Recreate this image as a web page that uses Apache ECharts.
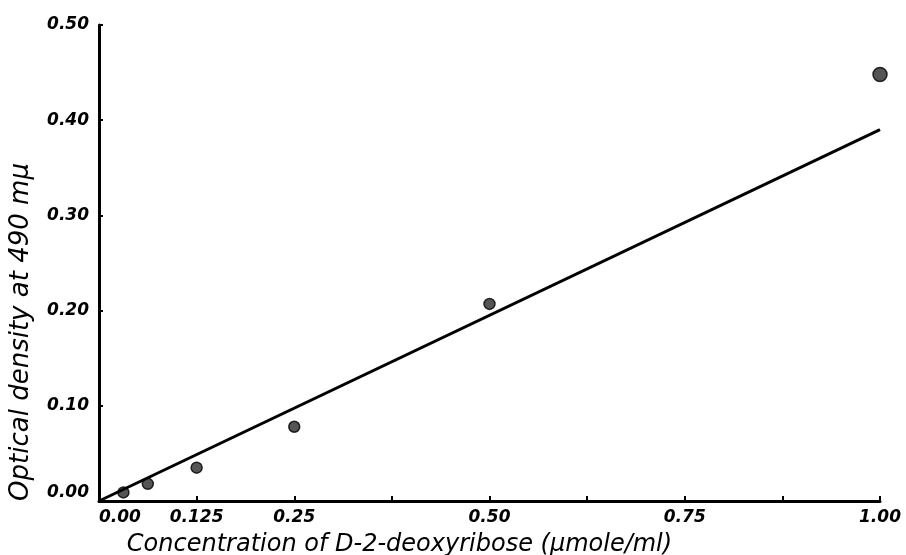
<!DOCTYPE html>
<html>
<head>
<meta charset="utf-8">
<script src="https://cdn.jsdelivr.net/npm/echarts@6/dist/echarts.min.js"></script>
<style>
  html, body { margin: 0; padding: 0; background: #fff; }
  #chart { width: 906px; height: 555px; }
</style>
</head>
<body>
<div id="chart"></div>
<script>
// Standard curve: D-2-deoxyribose concentration vs optical density
const concentration = [0.03125, 0.0625, 0.125, 0.25, 0.50, 1.00];
const opticalDensity = [0.009, 0.018, 0.035, 0.078, 0.207, 0.448];

// Fitted straight line through the origin
const fitX = [0, 1.00];
const fitY = [0, 0.39];

// Labelled x positions (ticks fall every 0.125)
const xTickLabels = { '0': '0.00', '0.125': '0.125', '0.25': '0.25', '0.5': '0.50', '0.75': '0.75', '1': '1.00' };
const yTickLabels = ['0.00', '0.10', '0.20', '0.30', '0.40', '0.50'];

const hand = '"DejaVu Sans", sans-serif';

const chart = echarts.init(document.getElementById('chart'), null, { renderer: 'canvas' });
chart.setOption({
  backgroundColor: '#ffffff',
  animation: false,
  grid: { left: 99, right: 26, top: 25, bottom: 54, containLabel: false, outerBoundsMode: 'none' },
  xAxis: {
    type: 'value',
    min: 0,
    max: 1,
    interval: 0.125,
    name: 'Concentration of D-2-deoxyribose (μmole/ml)',
    nameLocation: 'middle',
    nameGap: 32,
    nameTextStyle: {
      fontFamily: hand, fontStyle: 'italic', fontSize: 24, color: '#000',
      padding: [0, 180, 0, 0]
    },
    axisLine: { lineStyle: { color: '#000', width: 3 } },
    axisTick: { show: true, inside: true, length: 5, lineStyle: { color: '#000', width: 2 } },
    splitLine: { show: false },
    axisLabel: {
      margin: 8,
      fontFamily: hand, fontStyle: 'italic', fontWeight: 'bold', fontSize: 17, color: '#000',
      alignMinLabel: 'left',
      formatter: v => xTickLabels[String(+v.toFixed(3))] || ''
    }
  },
  yAxis: {
    type: 'value',
    min: 0,
    max: 0.5,
    interval: 0.1,
    name: 'Optical density at 490 mμ',
    nameLocation: 'middle',
    nameGap: 65,
    nameRotate: 90,
    nameTextStyle: {
      fontFamily: hand, fontStyle: 'italic', fontSize: 26, color: '#000',
      padding: [0, 138, 0, 0]
    },
    axisLine: { show: true, lineStyle: { color: '#000', width: 3 } },
    axisTick: { show: true, inside: true, length: 4, lineStyle: { color: '#000', width: 2 } },
    splitLine: { show: false },
    axisLabel: {
      margin: 10,
      fontFamily: hand, fontStyle: 'italic', fontWeight: 'bold', fontSize: 17, color: '#000',
      verticalAlignMinLabel: 'bottom',
      formatter: (v) => yTickLabels[Math.round(v * 10)]
    }
  },
  series: [
    {
      type: 'line',
      data: fitX.map((x, i) => [x, fitY[i]]),
      showSymbol: false,
      lineStyle: { color: '#000', width: 3 },
      silent: true
    },
    {
      type: 'scatter',
      data: concentration.map((x, i) => [x, opticalDensity[i]]),
      symbol: 'circle',
      symbolSize: (v) => (v[0] >= 1 ? 14 : 11),
      itemStyle: { color: '#2a2a2a', borderColor: '#000', borderWidth: 1.5 }
    }
  ]
});
</script>
</body>
</html>
